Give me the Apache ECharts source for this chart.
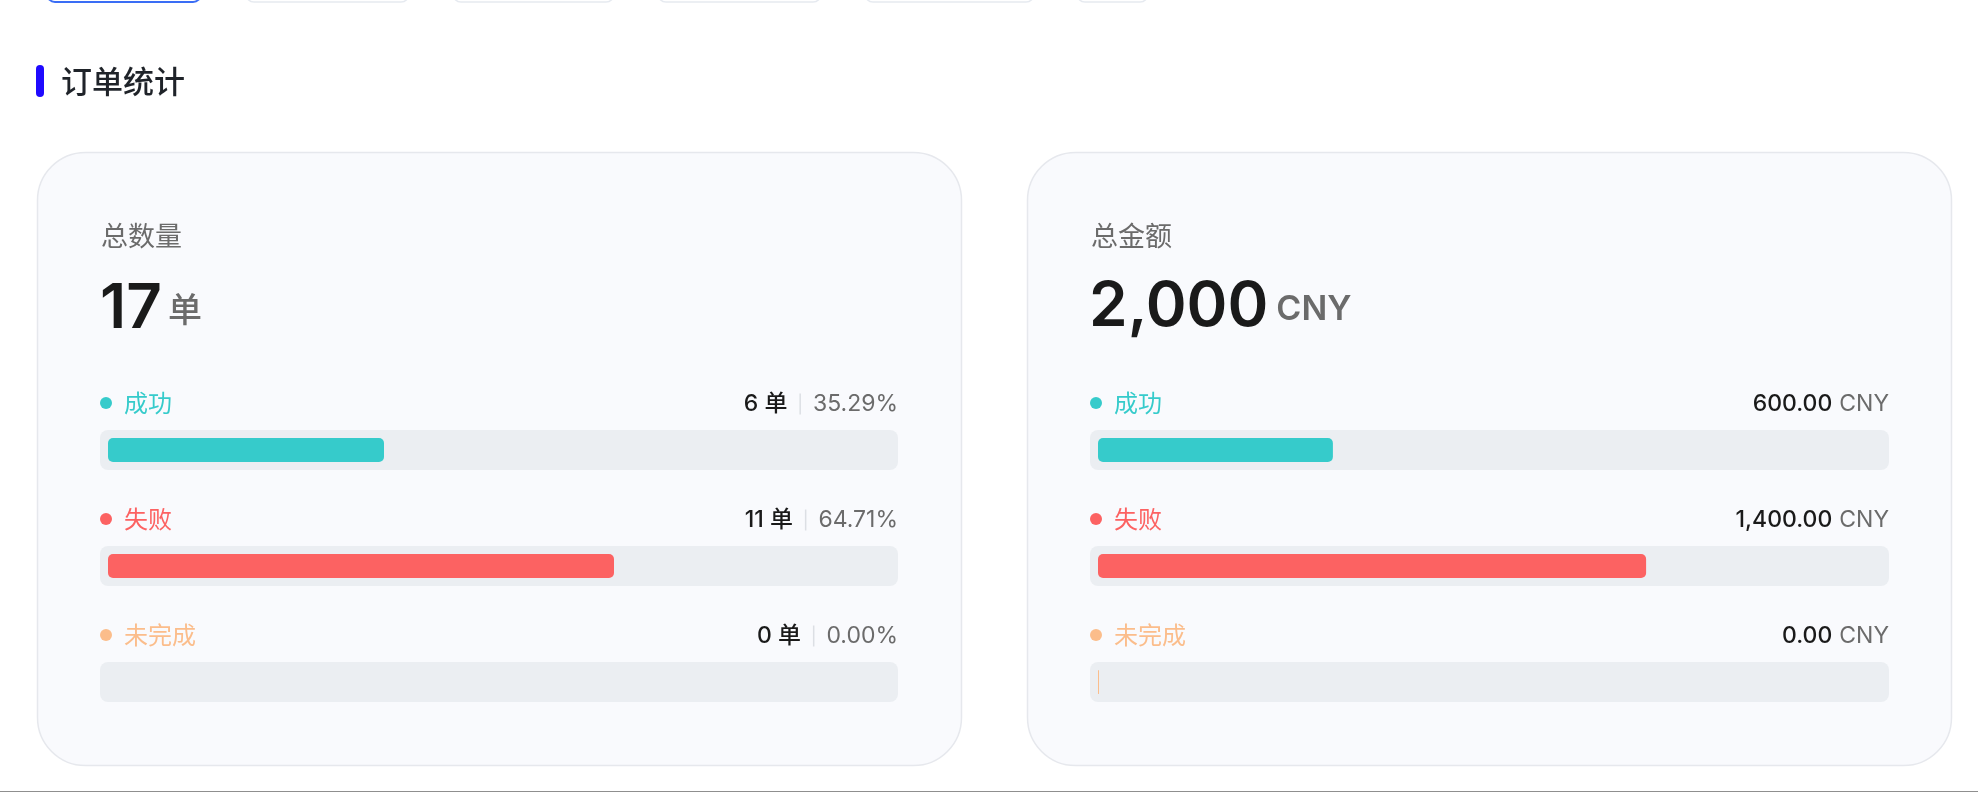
<!DOCTYPE html>
<html>
<head>
<meta charset="utf-8">
<title>订单统计</title>
<script src="https://cdn.jsdelivr.net/npm/echarts@6/dist/echarts.min.js"></script>
<style>
html, body { margin: 0; padding: 0; background: #fff; }
#main { width: 1978px; height: 792px; }
</style>
</head>
<body>
<div id="main"></div>
<script>
// data
const statusNames = ['成功', '失败', '未完成']
const orderCounts = [6, 11, 0]
const orderAmounts = [600, 1400, 0]
const countUnit = '单'
const amountUnit = 'CNY'

const colors = ['#36cbcb', '#fc6262', '#fbbd8b']
const numFont = 'Inter, "Noto Sans CJK SC", sans-serif'
const cnFont = '"Noto Sans CJK SC", sans-serif'

const countTotal = orderCounts.reduce((a, b) => a + b, 0)
const amountTotal = orderAmounts.reduce((a, b) => a + b, 0)
const money = v => v.toLocaleString('en-US', { minimumFractionDigits: 2, maximumFractionDigits: 2 })

const chart = echarts.init(document.getElementById('main'))

// left label rich styles (dot + name), one set per status
const nameRich = {}
colors.forEach((c, i) => {
  nameRich['d' + i] = { width: 12, height: 12, borderRadius: 6, backgroundColor: c, fontSize: 1 }
  nameRich['n' + i] = { color: c, fontSize: 24, fontFamily: cnFont, padding: [0, 0, 0, 12] }
})
const nameLabel = {
  show: true,
  position: [0, -27],
  align: 'left',
  verticalAlign: 'middle',
  formatter: p => `{d${p.dataIndex}| }{n${p.dataIndex}|${statusNames[p.dataIndex]}}`,
  rich: nameRich
}

const gridTop = 392
const gridH = 348
const grids = [
  { left: 100, width: 798, top: gridTop, height: gridH },
  { left: 108, width: 782, top: gridTop, height: gridH },
  { left: 1090, width: 799, top: gridTop, height: gridH },
  { left: 1098, width: 783, top: gridTop, height: gridH }
]
const maxes = [countTotal, countTotal, amountTotal, amountTotal]

function trackSeries(idx, total) {
  return {
    type: 'bar', xAxisIndex: idx, yAxisIndex: idx, barWidth: 40, silent: true,
    data: statusNames.map(() => total),
    itemStyle: { color: '#ebeef2', borderRadius: 8 },
    label: nameLabel
  }
}
function valueSeries(idx, total, formatter, rich) {
  return {
    type: 'bar', xAxisIndex: idx, yAxisIndex: idx, barWidth: 40, barGap: '-100%', silent: true,
    data: statusNames.map(() => total),
    itemStyle: { color: 'rgba(0,0,0,0)' },
    label: { show: true, position: ['100%', -26], align: 'right', verticalAlign: 'middle', formatter, rich }
  }
}
function fillSeries(idx, values, minLen) {
  return {
    type: 'bar', xAxisIndex: idx, yAxisIndex: idx, barWidth: 24, silent: true,
    barMinHeight: minLen,
    data: values,
    itemStyle: { color: p => colors[p.dataIndex], borderRadius: 5 }
  }
}

const bigNum = { fontSize: 62, fontWeight: 600, fontFamily: numFont, fill: '#1a1a1a', color: '#1a1a1a' }

const option = {
  backgroundColor: '#fff',
  animation: false,
  grid: grids,
  xAxis: grids.map((g, i) => ({ type: 'value', gridIndex: i, min: 0, max: maxes[i], show: false })),
  yAxis: grids.map((g, i) => ({ type: 'category', gridIndex: i, data: statusNames, inverse: true, show: false })),
  graphic: [
    // tab strip cut off at top
    ...[[47, 154], [246, 163], [453, 161], [658, 163], [865, 169], [1077, 71]].map((t, i) => ({
      type: 'rect', z: 0,
      shape: { x: t[0], y: -40, width: t[1], height: 42, r: 8 },
      style: { fill: '#fff', stroke: i === 0 ? '#3a6df5' : '#e6eaf0', lineWidth: i === 0 ? 2 : 1.5 }
    })),
    { type: 'rect', z: 0, shape: { x: 36, y: 65, width: 8, height: 32, r: 4 }, style: { fill: '#1f0aff' } },
    { type: 'text', z: 0, style: { text: '订单统计', x: 61, y: 81, verticalAlign: 'middle', fill: '#1f2329', font: '500 31px ' + cnFont } },
    // cards
    { type: 'rect', z: 0, shape: { x: 37.5, y: 152.5, width: 924, height: 613, r: 48 }, style: { fill: '#f9fafd', stroke: '#e6e8ed', lineWidth: 1.5 } },
    { type: 'rect', z: 0, shape: { x: 1027.5, y: 152.5, width: 924, height: 613, r: 48 }, style: { fill: '#f9fafd', stroke: '#e6e8ed', lineWidth: 1.5 } },
    { type: 'text', z: 1, style: { text: '总数量', x: 101, y: 236, verticalAlign: 'middle', fill: '#6b6b6b', font: '27px ' + cnFont } },
    { type: 'text', z: 1, style: { text: '总金额', x: 1091, y: 236, verticalAlign: 'middle', fill: '#6b6b6b', font: '27px ' + cnFont } },
    {
      type: 'text', z: 1,
      style: {
        text: `{n|${countTotal}}{u|${countUnit}}`, x: 100, y: 309, verticalAlign: 'middle',
        rich: {
          n: bigNum,
          u: { fontSize: 34, fontWeight: 500, fontFamily: cnFont, color: '#6b6b6b', fill: '#6b6b6b', padding: [0, 0, 0, 6] }
        }
      }
    },
    {
      type: 'text', z: 1,
      style: {
        text: `{n|${amountTotal.toLocaleString('en-US')}}{u|${amountUnit}}`, x: 1089, y: 307, verticalAlign: 'middle',
        rich: {
          n: bigNum,
          u: { fontSize: 34, fontWeight: 600, fontFamily: numFont, color: '#6b6b6b', fill: '#6b6b6b', padding: [6, 0, 0, 8] }
        }
      }
    },
    { type: 'rect', z: 0, shape: { x: 0, y: 791, width: 1978, height: 1 }, style: { fill: '#8f8f8f' } }
  ],
  series: [
    trackSeries(0, countTotal),
    valueSeries(0, countTotal,
      p => {
        const i = p.dataIndex
        const pct = countTotal ? (orderCounts[i] / countTotal * 100).toFixed(2) : '0.00'
        return `{v|${orderCounts[i]} ${countUnit}}{s| }{p|${pct}%}`
      },
      {
        v: { color: '#1a1a1a', fontSize: 23, fontWeight: 500, fontFamily: numFont, padding: [0, 12, 0, 0] },
        s: { width: 1.5, height: 21, backgroundColor: '#dcdfe4', fontSize: 1 },
        p: { color: '#6b6b6b', fontSize: 23, fontFamily: numFont, padding: [0, 0, 0, 12] }
      }),
    fillSeries(1, orderCounts, 0),
    trackSeries(2, amountTotal),
    valueSeries(2, amountTotal,
      p => `{v|${money(orderAmounts[p.dataIndex])}}{u|${amountUnit}}`,
      {
        v: { color: '#1a1a1a', fontSize: 23, fontWeight: 500, fontFamily: numFont },
        u: { color: '#6b6b6b', fontSize: 23, fontFamily: numFont, padding: [0, 0, 0, 7] }
      }),
    fillSeries(3, orderAmounts, 1)
  ]
}
chart.setOption(option)
window.addEventListener('resize', () => chart.resize())
</script>
</body>
</html>
